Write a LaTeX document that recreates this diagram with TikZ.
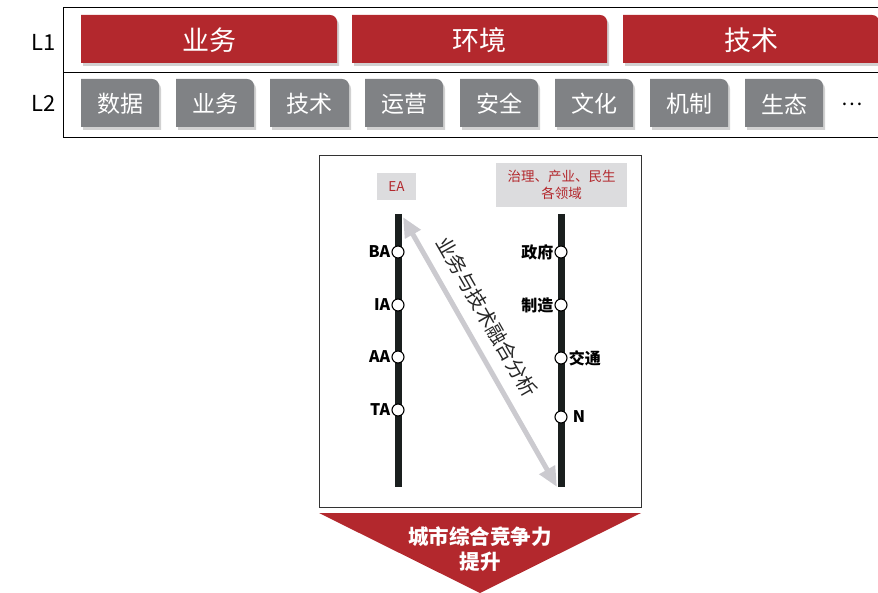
\documentclass[tikz,border=0pt]{standalone}
\usepackage{fontspec}
\setmainfont{Noto Sans CJK SC}
\usetikzlibrary{arrows.meta}
\definecolor{cred}{HTML}{B3282D}
\definecolor{cgray}{HTML}{808285}
\definecolor{clight}{HTML}{DCDCDE}
\definecolor{carrow}{HTML}{CBCACF}
\definecolor{cbar}{HTML}{1A1F1E}
\newcommand\tabbox[7]{%
  \fill[black!40,opacity=.45] (#2+2,#5+3) -- (#2+2,#3+3) -- (#4-5,#3+3) .. controls (#4-1,#3+3) and (#4+2,#3+6) .. (#4+2,#3+10) -- (#4+2,#5+3) -- cycle;
  \fill[#6] (#2,#5) -- (#2,#3) -- (#4-7,#3) .. controls (#4-3,#3) and (#4,#3+3) .. (#4,#3+7) -- (#4,#5) -- cycle;
  \node[text=white,font=\fontsize{#7}{#7}\selectfont,inner sep=0pt] (n#1) at ({(#2+#4)/2},{(#3+#5)/2+1}) {\csname lbl#1\endcsname};}
\tikzset{
  stn/.style={circle,draw=black,fill=white,line width=1.1pt,minimum size=12pt,inner sep=0pt},
  stlbl/.style={font=\fontsize{16}{16}\selectfont\bfseries,inner sep=1pt},
  bar/.style={line width=7pt,cbar},
  tagbox/.style={fill=clight,text=cred,font=\fontsize{13.5}{17}\selectfont,align=center,inner sep=0pt},
  lvl/.style={font=\fontsize{22}{22}\selectfont,inner sep=0pt}
}
\begin{document}
\begin{tikzpicture}[x=1pt,y=-1pt]
\useasboundingbox (0,0) rectangle (878,593);
% top frame
\draw[line width=0.8pt] (877.6,7) -- (63,7) -- (63,137) -- (877.6,137);
\draw[line width=0.8pt] (63,72) -- (877.6,72);
\node[lvl] (L1) at (44,42) {L1};
\node[lvl] (L2) at (44,103) {L2};
% L1 boxes
\def\lbla{业务}\def\lblb{环境}\def\lblc{技术}
\tabbox{a}{81}{15}{337}{63}{cred}{27}
\tabbox{b}{352}{15}{607}{63}{cred}{27}
\tabbox{c}{623}{15}{879}{63}{cred}{27}
% L2 boxes
\def\lbld{数据}\def\lble{业务}\def\lblf{技术}\def\lblg{运营}
\def\lblh{安全}\def\lbli{文化}\def\lblj{机制}\def\lblk{生态}
\tabbox{d}{81}{79}{159}{127}{cgray}{23}
\tabbox{e}{176}{79}{254}{127}{cgray}{23}
\tabbox{f}{270}{79}{349}{127}{cgray}{23}
\tabbox{g}{365}{79}{443}{127}{cgray}{23}
\tabbox{h}{460}{79}{538}{127}{cgray}{23}
\tabbox{i}{555}{79}{633}{127}{cgray}{23}
\tabbox{j}{650}{79}{728}{127}{cgray}{23}
\tabbox{k}{745}{79}{823}{127}{cgray}{23}
\node[font=\fontsize{20}{20}\selectfont,inner sep=0pt] (dots) at (852,104) {…};
% middle frame
\draw[line width=0.8pt,black!80] (319,155) rectangle (641,507);
\node[tagbox,minimum width=39pt,minimum height=27pt] (ea) at (396.5,186.5) {EA};
\node[tagbox,minimum width=131pt,minimum height=44pt] (dom) at (561.5,185) {治理、产业、民生\\各领域};
% bars
\coordinate (lt) at (398,214); \coordinate (lb) at (398,487);
\coordinate (rt) at (561,214); \coordinate (rb) at (561,487);
\draw[bar] (lt) -- (lb);
\draw[bar] (rt) -- (rb);
% stations left
\node[stn] (ba) at (398,252) {};
\node[stn] (ia) at (398,305) {};
\node[stn] (aa) at (398,357) {};
\node[stn] (ta) at (398,410) {};
\node[stlbl,anchor=east] (tba) at (ba.west) {BA};
\node[stlbl,anchor=east] (tia) at (ia.west) {IA};
\node[stlbl,anchor=east] (taa) at (aa.west) {AA};
\node[stlbl,anchor=east] (tta) at (ta.west) {TA};
% stations right
\node[stn] (zf) at (561,252) {};
\node[stn] (zz) at (561,305) {};
\node[stn] (jt) at (561,358) {};
\node[stn] (nn) at (561,417) {};
\node[stlbl,anchor=east] (tzf) at (zf.west) {政府};
\node[stlbl,anchor=east] (tzz) at (zz.west) {制造};
\node[stlbl,anchor=west] (tjt) at (jt.east) {交通};
\node[stlbl,anchor=west,xshift=4pt] (tnn) at (nn.east) {N};
% diagonal arrow
\coordinate (a1) at (403,217);
\coordinate (a2) at (557,487);
\draw[carrow,line width=5pt,{Triangle[length=20pt,width=17pt]}-{Triangle[length=20pt,width=17pt]}] (a1) -- (a2);
\node[rotate=-60.3,font=\fontsize{20}{20}\selectfont,text=black!85,inner sep=0pt] (diag) at (487,317) {业务与技术融合分析};
% bottom triangle
\coordinate (t1) at (319,513); \coordinate (t2) at (641,513); \coordinate (t3) at (480,593);
\fill[cred] (t1) -- (t2) -- (t3) -- cycle;
\node[text=white,font=\fontsize{20.5}{25}\selectfont\bfseries,align=center,inner sep=0pt] (res) at (480,549) {城市综合竞争力\\提升};
\end{tikzpicture}
\end{document}
